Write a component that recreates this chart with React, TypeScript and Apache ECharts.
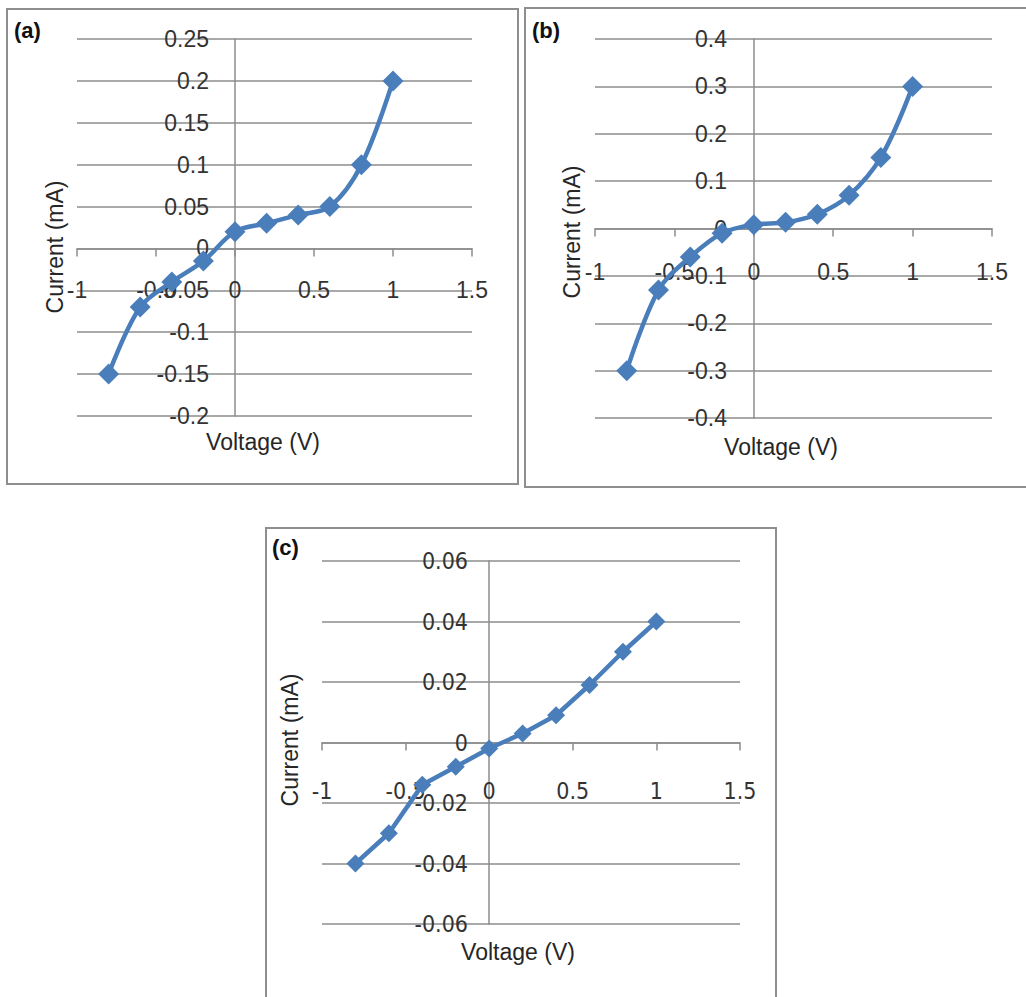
import React, { useEffect, useRef } from "react";
import * as echarts from "echarts";

// Data
const voltage = [-0.8, -0.6, -0.4, -0.2, 0, 0.2, 0.4, 0.6, 0.8, 1];
const currentA = [-0.15, -0.07, -0.04, -0.015, 0.02, 0.03, 0.04, 0.05, 0.1, 0.2];
const currentB = [-0.3, -0.13, -0.06, -0.01, 0.008, 0.013, 0.03, 0.07, 0.15, 0.3];
const currentC = [-0.04, -0.03, -0.014, -0.008, -0.002, 0.003, 0.009, 0.019, 0.03, 0.04];

const xRange = { min: -1, max: 1.5, interval: 0.5 };
const yRangeA = { min: -0.2, max: 0.25, interval: 0.05 };
const yRangeB = { min: -0.4, max: 0.4, interval: 0.1 };
const yRangeC = { min: -0.06, max: 0.06, interval: 0.02 };

const panelLabels = ["(a)", "(b)", "(c)"];
const xTitle = "Voltage (V)";
const yTitle = "Current (mA)";

const BLUE = "#4A7EBB";
const GRID = "#8c8c8c";
const FONT = "'Liberation Sans', Arial, sans-serif";
const NARROW = "'Liberation Sans Narrow', 'Arial Narrow', 'DejaVu Sans Condensed', sans-serif";

function pairs(xs: number[], ys: number[]) {
  return xs.map((x, i) => [x, ys[i]]);
}

export default function App() {
  const ref = useRef<HTMLDivElement>(null);
  useEffect(() => {
    if (!ref.current) return;
    const chart = echarts.init(ref.current, undefined, { renderer: "svg" });

    const grids = [
      { left: 77, top: 39, width: 395, height: 377 },
      { left: 595, top: 39, width: 397, height: 379 },
      { left: 322, top: 561, width: 418, height: 363 },
    ];
    // labels stay at the grid edge; shift them inward to sit near the zero axes
    const xMargins = [-138, -158, -145];
    const yMargins = [-132, -132, -146];
    const yRanges = [yRangeA, yRangeB, yRangeC];
    const fonts = [FONT, FONT, NARROW];

    const xAxis = grids.map((_, i) => ({
      type: "value",
      gridIndex: i,
      min: xRange.min,
      max: xRange.max,
      interval: xRange.interval,
      axisLine: { onZero: true, lineStyle: { color: GRID, width: 1.5 } },
      axisTick: { show: true, length: 8, lineStyle: { color: GRID, width: 1.5 } },
      axisLabel: { margin: xMargins[i], fontSize: 23, color: "#333333", fontFamily: fonts[i] },
      splitLine: { show: false },
    }));
    const yAxis = grids.map((_, i) => ({
      type: "value",
      gridIndex: i,
      min: yRanges[i].min,
      max: yRanges[i].max,
      interval: yRanges[i].interval,
      axisLine: { onZero: true, lineStyle: { color: GRID, width: 1.5 } },
      axisTick: { show: false },
      axisLabel: { margin: yMargins[i], fontSize: 23, color: "#333333", fontFamily: fonts[i] },
      splitLine: { show: true, lineStyle: { color: GRID, width: 1.5 } },
    }));

    const seriesData = [currentA, currentB, currentC];
    const series = seriesData.map((ys, i) => ({
      type: "line",
      xAxisIndex: i,
      yAxisIndex: i,
      data: pairs(voltage, ys),
      smooth: i < 2 ? 0.35 : false,
      symbol: "diamond",
      symbolSize: i < 2 ? 21 : 18,
      showSymbol: true,
      lineStyle: { color: BLUE, width: 4.5 },
      itemStyle: { color: BLUE },
      z: 5,
    }));

    const frame = (x: number, y: number, w: number, h: number) => ({
      type: "rect",
      shape: { x, y, width: w, height: h },
      style: { fill: "none", stroke: "#8e8e8e", lineWidth: 2 },
      silent: true,
    });
    const text = (t: string, x: number, y: number, opts: any = {}) => ({
      type: "text",
      x,
      y,
      rotation: opts.rotation || 0,
      style: {
        text: t,
        fontSize: opts.fontSize || 23,
        fontWeight: opts.fontWeight || "normal",
        fontFamily: FONT,
        fill: opts.fill || "#262626",
        align: opts.align || "center",
        verticalAlign: "middle",
      },
      silent: true,
    });

    const graphic = [
      frame(7, 9, 511, 475),
      frame(525, 8, 510, 479),
      frame(266, 528, 510, 480),
      text(panelLabels[0], 14, 30, { fontSize: 22, fontWeight: "bold", align: "left", fill: "#111" }),
      text(panelLabels[1], 532, 30, { fontSize: 22, fontWeight: "bold", align: "left", fill: "#111" }),
      text(panelLabels[2], 272, 547, { fontSize: 22, fontWeight: "bold", align: "left", fill: "#111" }),
      text(xTitle, 263, 442),
      text(xTitle, 781, 447),
      text(xTitle, 518, 952),
      text(yTitle, 55, 247, { rotation: Math.PI / 2 }),
      text(yTitle, 572, 232, { rotation: Math.PI / 2 }),
      text(yTitle, 290, 740, { rotation: Math.PI / 2 }),
    ];

    chart.setOption({
      animation: false,
      backgroundColor: "#ffffff",
      grid: grids.map((g) => ({ ...g, containLabel: false })),
      xAxis,
      yAxis,
      series,
      graphic,
    });
    return () => chart.dispose();
  }, []);
  return (
    <div
      ref={ref}
      style={{ position: "absolute", left: 0, top: 0, width: 1026, height: 997, background: "#fff" }}
    />
  );
}
